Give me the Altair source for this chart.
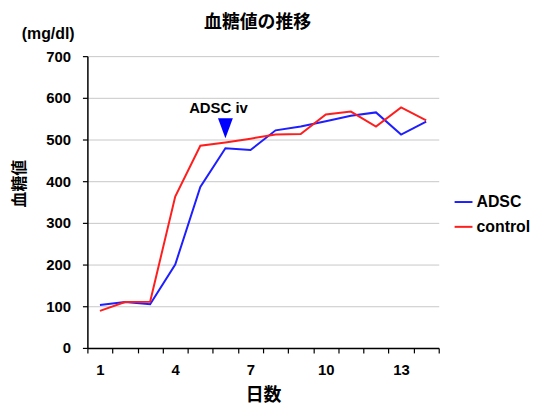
import altair as alt
import pandas as pd

days = list(range(1, 15))
adsc = [103, 110, 105, 200, 386, 479, 475, 522, 531, 544, 557, 565, 512, 543]
control = [89, 110, 111, 363, 485, 493, 502, 512, 513, 560, 567, 531, 577, 546]
groups = ["ADSC", "control"]
colors = ["#1e1eff", "#ff1e1e"]
x_ticks = [0.5 + i for i in range(15)]
x_labels = [1, 4, 7, 10, 13]
y_ticks = [0, 100, 200, 300, 400, 500, 600, 700]

rows = []
for d, a, c in zip(days, adsc, control):
    rows.append({"day": d, "group": "ADSC", "value": a})
    rows.append({"day": d, "group": "control", "value": c})
df = pd.DataFrame(rows)

W, H = 354, 294
LAT = "Liberation Sans"
JP = "Noto Sans CJK JP"

xscale = alt.Scale(domain=[0.5, 14.5], nice=False, zero=False)
yscale = alt.Scale(domain=[0, 700], nice=False)

label_expr = ("indexof(" + str(x_labels) + ", datum.value + 0.5) >= 0 ? "
              "format(datum.value + 0.5, 'd') : ''")

lines = alt.Chart(df).mark_line(strokeWidth=2).encode(
    x=alt.X("day:Q", scale=xscale,
            axis=alt.Axis(values=x_ticks, tickCount=40, labelExpr=label_expr,
                          grid=False, labelOffset=W / 28, labelOverlap=False,
                          labelFlush=False, labelBound=False, tickSize=5,
                          tickColor="black", domainColor="black", domainWidth=1.5,
                          tickWidth=1.2, labelFont=LAT, labelFontSize=15,
                          labelFontWeight="bold", labelColor="black", labelPadding=10,
                          title="日数", titleFont=JP, titleFontSize=18,
                          titleFontWeight="bold", titleColor="black",
                          titleY=48, titleBaseline="middle")),
    y=alt.Y("value:Q", scale=yscale,
            axis=alt.Axis(values=y_ticks, tickCount=20, grid=True,
                          gridColor="#c8c8c8", gridWidth=1, tickSize=5,
                          tickColor="black", domainColor="black", domainWidth=1.5,
                          tickWidth=1.2, labelFont=LAT, labelFontSize=15,
                          labelFontWeight="bold", labelColor="black", labelPadding=12,
                          title="血糖値", titleFont=JP, titleFontSize=16,
                          titleFontWeight="bold", titleColor="black",
                          titleAngle=-90, titleX=-68, titleY=128,
                          titleAlign="center", titleBaseline="middle")),
    color=alt.Color("group:N", scale=alt.Scale(domain=groups, range=colors),
                    legend=alt.Legend(title=None, orient="none", legendX=369,
                                      legendY=137, symbolType="stroke",
                                      symbolSize=324, symbolStrokeWidth=2,
                                      labelFont=LAT, labelFontSize=16,
                                      labelFontWeight="bold", labelColor="black",
                                      labelOffset=3, rowPadding=7)),
)

ann_df = pd.DataFrame({"day": [6, 6], "value": [527, 576],
                       "kind": ["tri", "txt"], "label": ["", "ADSC iv"]})

tri = alt.Chart(ann_df).transform_filter(alt.datum.kind == "tri").mark_point(
    shape="M-0.75,-1L0.75,-1L0,1Z", size=400, filled=True, color="#0000ff",
    opacity=1, strokeWidth=0, dx=-1
).encode(x="day:Q", y="value:Q")

ann_txt = alt.Chart(ann_df).transform_filter(alt.datum.kind == "txt").mark_text(
    font=LAT, fontSize=15, fontWeight="bold", color="black",
    align="center", baseline="middle", dx=-7
).encode(x="day:Q", y="value:Q", text="label:N")

one = pd.DataFrame({"a": [0]})
title_txt = alt.Chart(one).mark_text(
    font=JP, fontSize=18, fontWeight="bold", color="black",
    align="center", baseline="middle", text="血糖値の推移"
).encode(x=alt.value(171.5), y=alt.value(-33))

unit_txt = alt.Chart(one).mark_text(
    font=LAT, fontSize=16, fontWeight="bold", color="black",
    align="center", baseline="middle", text="(mg/dl)"
).encode(x=alt.value(-39.5), y=alt.value(-22))

chart = alt.layer(lines, tri, ann_txt, title_txt, unit_txt).properties(
    width=W, height=H, background="white",
    autosize=alt.AutoSizeParams(type="none"),
    padding={"left": 80, "top": 47, "right": 96, "bottom": 56},
).configure_view(stroke=None).configure_axis(labelOverlap=False, labelBound=False)

chart.save("out.html", embed_options={"renderer": "svg", "actions": False})
